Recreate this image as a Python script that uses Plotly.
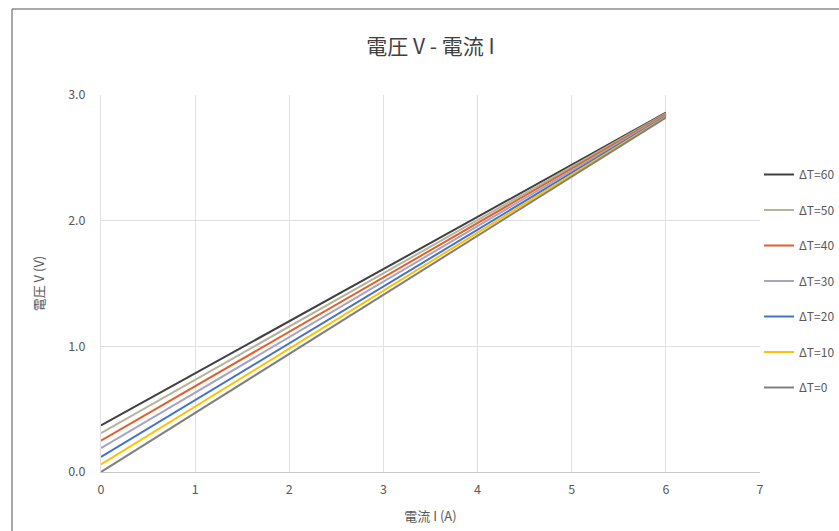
import plotly.graph_objects as go

# Data
current_I = [0, 6]
delta_T_labels = ["ΔT=0", "ΔT=10", "ΔT=20", "ΔT=30", "ΔT=40", "ΔT=50", "ΔT=60"]
V_at_I0 = [0.00, 0.06, 0.12, 0.19, 0.25, 0.31, 0.37]
V_at_I6 = [2.820, 2.826, 2.833, 2.840, 2.847, 2.853, 2.860]
colors = ["#7F7F7F", "#FFC000", "#4472C4", "#A5A5C3", "#E0602E", "#B4B49A", "#404040"]

x_ticks = [0, 1, 2, 3, 4, 5, 6, 7]
y_ticks = [0.0, 1.0, 2.0, 3.0]

FONT = "Noto Sans CJK JP"
TXT = "#595959"
GRID = "#E0E0E0"

W, H = 839, 531
L, R, T, B = 101, 79, 95, 59
pw, ph = W - L - R, H - T - B

fig = go.Figure()
# legend lists ΔT=60 first, so add traces in reverse order
for name, v0, v6, c in reversed(list(zip(delta_T_labels, V_at_I0, V_at_I6, colors))):
    fig.add_trace(go.Scatter(
        x=current_I, y=[v0, v6], mode="lines", name=name,
        line=dict(color=c, width=2), legendgroup=name,
    ))

def px_to_paper_x(px):
    return (px - L) / pw

def px_to_paper_y(py):
    return (H - B - py) / ph

fig.update_layout(
    width=W, height=H,
    margin=dict(l=L, r=R, t=T, b=B, autoexpand=False),
    paper_bgcolor="white", plot_bgcolor="white",
    font=dict(family=FONT, color=TXT, size=12),
    title=dict(text="電圧 V - 電流 I", x=0.5, xref="paper", xanchor="center",
               y=1 - 47 / H, yanchor="middle",
               font=dict(size=21, color="#404040", family=FONT)),
    xaxis=dict(range=[0, 7], tickvals=x_ticks, showgrid=True, gridcolor=GRID,
               gridwidth=1, zeroline=False, showline=True, linecolor="#C8C8C8",
               ticks="", ticklabelstandoff=6, tickfont=dict(size=12.5, color=TXT),
               title=dict(text="電流 I (A)", standoff=14, font=dict(size=13, color=TXT))),
    yaxis=dict(range=[0, 3], tickvals=y_ticks, tickformat=".1f", showgrid=True,
               gridcolor=GRID, gridwidth=1, zeroline=False, showline=True,
               linecolor=GRID, ticks="", ticklabelstandoff=12,
               tickfont=dict(size=12.5, color=TXT),
               title=dict(text="電圧 V (V)", standoff=20, font=dict(size=13, color=TXT))),
    legend=dict(x=px_to_paper_x(759), y=px_to_paper_y(160), xanchor="left", yanchor="top",
                traceorder="grouped", tracegroupgap=16.5,
                font=dict(size=12, color=TXT), itemwidth=30, bgcolor="rgba(0,0,0,0)"),
    showlegend=True,
)

# outer chart frame (left and top edges visible in reference)
fig.add_shape(type="line", xref="paper", yref="paper",
              x0=px_to_paper_x(12), x1=px_to_paper_x(12),
              y0=px_to_paper_y(9), y1=px_to_paper_y(540),
              line=dict(color="#8C8C8C", width=1.5), layer="above")
fig.add_shape(type="line", xref="paper", yref="paper",
              x0=px_to_paper_x(12), x1=px_to_paper_x(850),
              y0=px_to_paper_y(9), y1=px_to_paper_y(9),
              line=dict(color="#8C8C8C", width=1.5), layer="above")

fig.write_html("out.html", config={"displayModeBar": False},
               post_script="document.body.style.margin='0';")
